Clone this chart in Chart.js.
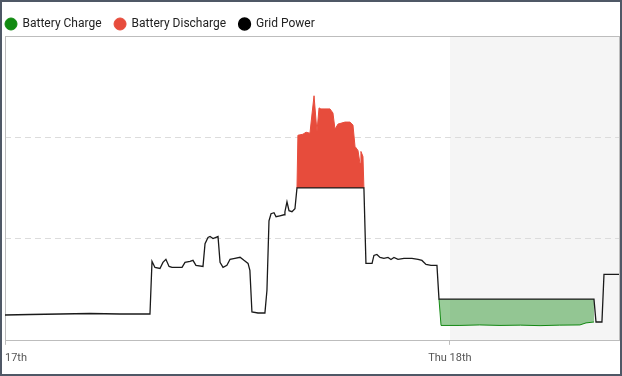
<!DOCTYPE html>
<html>
<head>
<meta charset="utf-8">
<title>Power</title>
<script src="https://cdn.jsdelivr.net/npm/chart.js@4.4.1/dist/chart.umd.min.js"></script>
<style>
    html, body { margin: 0; padding: 0; background: #fff; }
    #marco {
        width: 622px;
        height: 376px;
        box-sizing: border-box;
        border: 2px solid #4f5866;
        background: #fff;
    }
    canvas { display: block; }
</style>
</head>
<body>
<div id="marco">
    <canvas id="graficoEnergia" width="618" height="372"></canvas>
</div>
<script>
// Horas desde la medianoche del 17 y kW
const gridHours = [0, 1.35, 2.97, 4.58, 6.20, 7.82, 7.93, 8.09, 8.36, 8.52, 8.68, 8.85, 9.01, 9.55, 9.71, 9.98,
    10.14, 10.30, 10.68, 10.79, 10.95, 11.06, 11.22, 11.49, 11.60, 11.76, 11.97, 12.14, 12.40, 12.68, 12.89, 13.11,
    13.21, 13.32, 13.65, 14.02, 14.13, 14.24, 14.35, 14.51, 14.62, 14.83, 15.05, 15.10, 15.21, 15.32, 15.48, 15.64,
    15.75, 19.36, 19.47, 19.80, 19.90, 20.06, 20.23, 20.44, 20.66, 20.82, 20.98, 21.20, 21.52, 21.95, 22.28, 22.49,
    22.71, 22.98, 23.30, 23.41, 31.77, 31.88, 32.20, 32.31, 33.12];
const gridKw = [0.245, 0.25, 0.255, 0.26, 0.255, 0.255, 0.775, 0.715, 0.705, 0.765, 0.795, 0.725, 0.715, 0.715, 0.765, 0.775,
    0.785, 0.735, 0.725, 0.95, 1.01, 1.02, 1.0, 1.02, 0.765, 0.715, 0.735, 0.795, 0.805, 0.815, 0.785, 0.755,
    0.686, 0.275, 0.265, 0.265, 0.49, 1.176, 1.245, 1.255, 1.216, 1.225, 1.235, 1.265, 1.363, 1.275, 1.265, 1.294,
    1.5, 1.5, 0.755, 0.755, 0.833, 0.843, 0.814, 0.804, 0.814, 0.794, 0.814, 0.794, 0.804, 0.804, 0.794, 0.784,
    0.745, 0.735, 0.735, 0.402, 0.402, 0.176, 0.176, 0.647, 0.647];

const dischargeHours = [15.75, 15.80, 16.07, 16.24, 16.45, 16.56, 16.67, 16.78, 16.83, 16.94, 17.04, 17.26, 17.53,
    17.69, 17.80, 17.96, 18.34, 18.61, 18.77, 18.88, 19.04, 19.15, 19.20, 19.31, 19.36];
const dischargeKw = [1.5, 2.02, 2.03, 2.05, 2.04, 2.23, 2.41, 2.16, 2.06, 2.29, 2.28, 2.28, 2.28,
    2.24, 2.08, 2.13, 2.15, 2.15, 2.12, 1.91, 1.87, 1.74, 1.86, 1.81, 1.5];

const chargeHours = [23.41, 23.52, 24.54, 25.60, 26.70, 27.80, 28.86, 29.90, 31.01, 31.34, 31.77];
const chargeKw = [0.402, 0.142, 0.142, 0.147, 0.142, 0.145, 0.140, 0.145, 0.147, 0.167, 0.176];

const xTickHours = [0, 24, 33.12];
const xTickLabels = ['17th', 'Thu 18th', ''];
const shadeFromHour = 24;

function puntos(horas, valores) {
    return horas.map((h, i) => ({ x: h, y: valores[i] }));
}

// Zona sombreada, marco del area y ajuste de la leyenda
const marcoYSombra = {
    id: 'marcoYSombra',
    afterLayout(chart) {
        chart.legend.left -= 12.5;
    },
    beforeDraw(chart) {
        const { ctx, chartArea: a, scales: { x } } = chart;
        const desde = Math.round(x.getPixelForValue(shadeFromHour));
        ctx.save();
        ctx.fillStyle = '#f5f5f5';
        ctx.fillRect(desde, a.top, a.right - desde, a.bottom - a.top);
        ctx.restore();
    },
    beforeDatasetsDraw(chart) {
        const { ctx, chartArea: a } = chart;
        ctx.save();
        ctx.strokeStyle = '#bdbdbd';
        ctx.lineWidth = 1;
        ctx.strokeRect(Math.round(a.left) + 0.5, Math.round(a.top) + 0.5,
            Math.round(a.right - a.left), Math.round(a.bottom - a.top));
        ctx.restore();
    }
};

Chart.defaults.font.family = 'Roboto, "Open Sans", sans-serif';

const ctx = document.getElementById('graficoEnergia').getContext('2d');
new Chart(ctx, {
    type: 'line',
    data: {
        datasets: [
            {
                label: 'Battery Charge',
                data: puntos(chargeHours, chargeKw),
                borderColor: 'rgba(0, 128, 0, 0.9)',
                borderWidth: 1,
                backgroundColor: 'rgba(0, 128, 0, 0.4)',
                pointBackgroundColor: '#118a11',
                pointBorderColor: '#118a11',
                fill: 2,
                order: 1
            },
            {
                label: 'Battery Discharge',
                data: puntos(dischargeHours, dischargeKw),
                borderColor: '#e74c3c',
                borderWidth: 1,
                backgroundColor: '#e74c3c',
                pointBackgroundColor: '#e74c3c',
                pointBorderColor: '#e74c3c',
                fill: 2,
                order: 1
            },
            {
                label: 'Grid Power',
                data: puntos(gridHours, gridKw),
                borderColor: '#1a1a1a',
                borderWidth: 1.3,
                backgroundColor: '#000',
                pointBackgroundColor: '#000',
                pointBorderColor: '#000',
                fill: false,
                order: 0
            }
        ]
    },
    options: {
        responsive: false,
        animation: false,
        layout: { padding: { top: 3, left: 3, right: 1, bottom: 2 } },
        elements: {
            line: { tension: 0 },
            point: { radius: 0, hoverRadius: 0, pointStyle: 'circle', borderWidth: 0 }
        },
        scales: {
            x: {
                type: 'linear',
                min: 0,
                max: 33.12,
                afterBuildTicks: scale => {
                    scale.ticks = xTickHours.map(v => ({ value: v }));
                },
                ticks: {
                    align: 'inner',
                    autoSkip: false,
                    maxRotation: 0,
                    padding: 0,
                    color: '#555',
                    font: { size: 11, lineHeight: 2.47 },
                    callback: value => xTickLabels[xTickHours.indexOf(value)]
                },
                grid: {
                    drawOnChartArea: false,
                    drawTicks: true,
                    tickLength: 5,
                    tickColor: c => (c.index === xTickHours.length - 1 ? 'transparent' : '#bdbdbd')
                },
                border: { display: false }
            },
            y: {
                min: 0,
                max: 3,
                ticks: { display: false, stepSize: 1 },
                grid: {
                    drawTicks: false,
                    color: c => (c.tick.value === 1 || c.tick.value === 2 ? '#dcdcdc' : 'transparent')
                },
                border: { display: false, dash: [6, 4] }
            }
        },
        plugins: {
            legend: {
                position: 'top',
                align: 'start',
                maxHeight: 31,
                labels: {
                    usePointStyle: true,
                    boxWidth: 11,
                    boxHeight: 8.5,
                    padding: 13,
                    color: '#222',
                    font: { size: 12 },
                    sort: (a, b) => a.datasetIndex - b.datasetIndex
                }
            },
            tooltip: { enabled: false }
        }
    },
    plugins: [marcoYSombra]
});
</script>
</body>
</html>
